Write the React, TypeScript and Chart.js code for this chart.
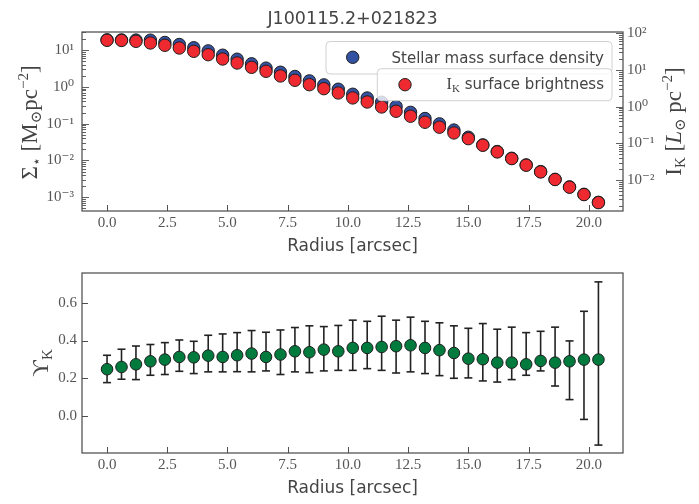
import React, { useEffect, useRef } from 'react';
import { Chart, registerables } from 'chart.js';

Chart.register(...registerables);

// ---------------- data ----------------
const TITLE = 'J100115.2+021823';
const RADIUS = [0, 0.6, 1.2, 1.8, 2.4, 3.0, 3.6, 4.2, 4.8, 5.4, 6.0, 6.6, 7.2, 7.8, 8.4, 9.0, 9.6, 10.2, 10.8, 11.4, 12.0, 12.6, 13.2, 13.8, 14.4, 15.0, 15.6, 16.2, 16.8, 17.4, 18.0, 18.6, 19.2, 19.8, 20.4];
const SIGMA = [18.9, 18.8, 18.6, 18.5, 16.0, 14.1, 11.5, 9.46, 7.22, 5.62, 4.22, 3.22, 2.49, 1.91, 1.45, 1.13, 0.861, 0.629, 0.497, 0.382, 0.292, 0.203, 0.138, 0.0988, 0.067, 0.0427, 0.0265, 0.0175, 0.0115, 0.00759, 0.00499, 0.00308, 0.00192, 0.00121, 0.000731];
const IK = [64.4, 63.7, 60.5, 54.4, 47.1, 39.7, 32.3, 26.1, 19.9, 15.5, 11.8, 9.22, 6.87, 5.24, 3.97, 3.09, 2.36, 1.73, 1.34, 0.98, 0.75, 0.548, 0.376, 0.275, 0.192, 0.134, 0.0887, 0.0583, 0.0383, 0.0253, 0.0166, 0.0103, 0.00637, 0.004, 0.00242];
const UPSILON = [0.248, 0.26, 0.274, 0.29, 0.299, 0.313, 0.311, 0.32, 0.313, 0.322, 0.331, 0.313, 0.326, 0.343, 0.338, 0.352, 0.343, 0.361, 0.361, 0.366, 0.37, 0.375, 0.361, 0.349, 0.334, 0.304, 0.301, 0.283, 0.283, 0.274, 0.292, 0.283, 0.29, 0.299, 0.299];
const UPS_HI = [0.322, 0.354, 0.371, 0.379, 0.389, 0.403, 0.396, 0.428, 0.435, 0.442, 0.453, 0.444, 0.456, 0.469, 0.478, 0.474, 0.48, 0.508, 0.502, 0.529, 0.508, 0.524, 0.502, 0.494, 0.478, 0.465, 0.49, 0.46, 0.471, 0.442, 0.449, 0.471, 0.398, 0.555, 0.711];
const UPS_LO = [0.177, 0.195, 0.193, 0.216, 0.22, 0.237, 0.225, 0.234, 0.234, 0.235, 0.234, 0.239, 0.22, 0.234, 0.23, 0.239, 0.242, 0.242, 0.251, 0.242, 0.228, 0.234, 0.225, 0.214, 0.2, 0.202, 0.186, 0.18, 0.193, 0.216, 0.239, 0.159, 0.087, -0.018, -0.154];

const X_TICKS = [0, 2.5, 5, 7.5, 10, 12.5, 15, 17.5, 20];
const X_TICK_LABELS = ['0.0', '2.5', '5.0', '7.5', '10.0', '12.5', '15.0', '17.5', '20.0'];
const SIGMA_TICKS = [1e-3, 1e-2, 1e-1, 1, 10];
const SIGMA_TICK_LABELS = ['10⁻³', '10⁻²', '10⁻¹', '10⁰', '10¹'];
const IK_TICKS = [1e-2, 1e-1, 1, 10, 100];
const IK_TICK_LABELS = ['10⁻²', '10⁻¹', '10⁰', '10¹', '10²'];
const UPS_TICKS = [0, 0.2, 0.4, 0.6];
const UPS_TICK_LABELS = ['0.0', '0.2', '0.4', '0.6'];

const LEGEND_SIGMA = 'Stellar mass surface density';
const LEGEND_IK = ' surface brightness';
const X_TITLE = 'Radius [arcsec]';

// ---------------- style ----------------
const W = 699;
const H_TOP = 255;
const H_BOT = 249;
const BLUE = '#3452a2';
const RED = '#ee2a30';
const GREEN = '#017a3e';
const EDGE = '#1e1e1e';
const FRAME = '#4f4f4f';
const TXT = '#444444';
const TICK_TXT = '#555555';
const SANS = '"DejaVu Sans", "Noto Sans", sans-serif';
const SERIF = '"Liberation Serif", "DejaVu Serif", serif';
const LBL = 23;

type Seg = { t: string; font: string; dy?: number };

function drawRich(ctx: CanvasRenderingContext2D, segs: Seg[], x: number, y: number, align: 'left' | 'center' | 'right', rotated: boolean, color = TXT) {
  ctx.save();
  ctx.translate(x, y);
  if (rotated) ctx.rotate(-Math.PI / 2);
  ctx.textBaseline = 'alphabetic';
  ctx.textAlign = 'left';
  let total = 0;
  const widths = segs.map((s) => {
    ctx.font = s.font;
    const w = ctx.measureText(s.t).width;
    total += w;
    return w;
  });
  let cx = align === 'center' ? -total / 2 : align === 'right' ? -total : 0;
  ctx.fillStyle = color;
  segs.forEach((s, i) => {
    ctx.font = s.font;
    ctx.fillText(s.t, cx, s.dy || 0);
    cx += widths[i];
  });
  ctx.restore();
}

function line(ctx: CanvasRenderingContext2D, x1: number, y1: number, x2: number, y2: number) {
  ctx.beginPath();
  ctx.moveTo(x1, y1);
  ctx.lineTo(x2, y2);
  ctx.stroke();
}

function drawFrame(chart: any) {
  const { ctx, chartArea: a } = chart;
  ctx.save();
  ctx.strokeStyle = FRAME;
  ctx.lineWidth = 1.25;
  ctx.strokeRect(a.left, a.top, a.right - a.left, a.bottom - a.top);
  ctx.restore();
}

function drawXTicks(chart: any) {
  const { ctx, chartArea: a } = chart;
  const sx = chart.scales.x;
  ctx.save();
  ctx.strokeStyle = FRAME;
  ctx.lineWidth = 1;
  X_TICKS.forEach((v) => {
    const px = Math.round(sx.getPixelForValue(v)) + 0.5;
    line(ctx, px, a.bottom, px, a.bottom - 6);
  });
  ctx.restore();
}

function drawLogTicks(chart: any, scaleId: string, side: 'left' | 'right') {
  const { ctx, chartArea: a } = chart;
  const s = chart.scales[scaleId];
  const lo = Math.floor(Math.log10(s.min));
  const hi = Math.ceil(Math.log10(s.max));
  ctx.save();
  ctx.strokeStyle = FRAME;
  ctx.lineWidth = 0.9;
  for (let d = lo; d <= hi; d++) {
    for (let m = 1; m <= 9; m++) {
      const v = m * Math.pow(10, d);
      if (v < s.min || v > s.max) continue;
      const py = Math.round(s.getPixelForValue(v)) + 0.5;
      const len = m === 1 ? 7 : 4;
      if (side === 'left') line(ctx, a.left, py, a.left + len, py);
      else line(ctx, a.right, py, a.right - len, py);
    }
  }
  ctx.restore();
}

function drawLinYTicks(chart: any) {
  const { ctx, chartArea: a } = chart;
  const s = chart.scales.y;
  ctx.save();
  ctx.strokeStyle = FRAME;
  ctx.lineWidth = 1;
  UPS_TICKS.forEach((v) => {
    const py = Math.round(s.getPixelForValue(v)) + 0.5;
    line(ctx, a.left, py, a.left + 6, py);
  });
  ctx.restore();
}

function roundRectPath(ctx: CanvasRenderingContext2D, x: number, y: number, w: number, h: number, r: number) {
  ctx.beginPath();
  ctx.moveTo(x + r, y);
  ctx.lineTo(x + w - r, y);
  ctx.arcTo(x + w, y, x + w, y + r, r);
  ctx.lineTo(x + w, y + h - r);
  ctx.arcTo(x + w, y + h, x + w - r, y + h, r);
  ctx.lineTo(x + r, y + h);
  ctx.arcTo(x, y + h, x, y + h - r, r);
  ctx.lineTo(x, y + r);
  ctx.arcTo(x, y, x + r, y, r);
  ctx.closePath();
}

function legendBox(ctx: CanvasRenderingContext2D, x: number, y: number, w: number, h: number) {
  ctx.save();
  roundRectPath(ctx, x, y, w, h, 4);
  ctx.fillStyle = 'rgba(255,255,255,0.8)';
  ctx.fill();
  ctx.strokeStyle = 'rgba(204,204,204,0.9)';
  ctx.lineWidth = 1;
  ctx.stroke();
  ctx.restore();
}

function marker(ctx: CanvasRenderingContext2D, x: number, y: number, fill: string) {
  ctx.save();
  ctx.beginPath();
  ctx.arc(x, y, 6.2, 0, Math.PI * 2);
  ctx.fillStyle = fill;
  ctx.fill();
  ctx.strokeStyle = EDGE;
  ctx.lineWidth = 1;
  ctx.stroke();
  ctx.restore();
}

const topPlugin = {
  id: 'topDecor',
  afterDatasetsDraw(chart: any) {
    const ctx = chart.ctx as CanvasRenderingContext2D;
    legendBox(ctx, 326, 41.5, 286, 32.5);
    marker(ctx, 352.7, 57.3, BLUE);
    drawRich(ctx, [{ t: LEGEND_SIGMA, font: '15px ' + SANS }], 604, 63, 'right', false);
    legendBox(ctx, 377.3, 68.7, 234.7, 32);
    marker(ctx, 405, 84.7, RED);
    drawRich(ctx, [
      { t: 'I', font: '16px ' + SERIF },
      { t: 'K', font: '11px ' + SERIF, dy: 3 },
      { t: LEGEND_IK, font: '15px ' + SANS },
    ], 604, 89, 'right', false);
  },
  afterDraw(chart: any) {
    const ctx = chart.ctx as CanvasRenderingContext2D;
    drawFrame(chart);
    drawXTicks(chart);
    drawLogTicks(chart, 'y', 'left');
    drawLogTicks(chart, 'y1', 'right');
    const a = chart.chartArea;
    const cx = (a.left + a.right) / 2;
    drawRich(ctx, [{ t: TITLE, font: '17.5px ' + SANS }], cx, 24, 'center', false);
    drawRich(ctx, [{ t: X_TITLE, font: '17px ' + SANS }], cx, 251, 'center', false);
    const cy = (a.top + a.bottom) / 2;
    drawRich(ctx, [
      { t: 'Σ', font: LBL + 'px ' + SERIF },
      { t: '⋆', font: '14px ' + SERIF, dy: 4 },
      { t: ' [M', font: LBL + 'px ' + SERIF },
      { t: '⊙', font: '15px ' + SERIF, dy: 4 },
      { t: 'pc', font: LBL + 'px ' + SERIF },
      { t: '−2', font: '15px ' + SERIF, dy: -9 },
      { t: ']', font: LBL + 'px ' + SERIF },
    ], 37, cy + 1, 'center', true);
    drawRich(ctx, [
      { t: 'I', font: LBL + 'px ' + SERIF },
      { t: 'K', font: '15px ' + SERIF, dy: 4 },
      { t: ' [', font: LBL + 'px ' + SERIF },
      { t: 'L', font: 'italic ' + LBL + 'px ' + SERIF },
      { t: '⊙', font: '15px ' + SERIF, dy: 4 },
      { t: ' pc', font: LBL + 'px ' + SERIF },
      { t: '−2', font: '15px ' + SERIF, dy: -9 },
      { t: ']', font: LBL + 'px ' + SERIF },
    ], 681, cy, 'center', true);
  },
};

const botPlugin = {
  id: 'botDecor',
  beforeDatasetsDraw(chart: any) {
    const ctx = chart.ctx as CanvasRenderingContext2D;
    const sx = chart.scales.x;
    const sy = chart.scales.y;
    ctx.save();
    ctx.strokeStyle = '#222222';
    ctx.lineWidth = 1.6;
    RADIUS.forEach((r, i) => {
      const px = sx.getPixelForValue(r);
      const yh = sy.getPixelForValue(UPS_HI[i]);
      const yl = sy.getPixelForValue(UPS_LO[i]);
      line(ctx, px, yh, px, yl);
      line(ctx, px - 4, yh, px + 4, yh);
      line(ctx, px - 4, yl, px + 4, yl);
    });
    ctx.restore();
  },
  afterDraw(chart: any) {
    const ctx = chart.ctx as CanvasRenderingContext2D;
    drawFrame(chart);
    drawXTicks(chart);
    drawLinYTicks(chart);
    const a = chart.chartArea;
    const cx = (a.left + a.right) / 2;
    drawRich(ctx, [{ t: X_TITLE, font: '17px ' + SANS }], cx, 238, 'center', false);
    const cy = (a.top + a.bottom) / 2;
    drawRich(ctx, [
      { t: 'ϒ', font: '23px ' + SERIF },
      { t: 'K', font: '15px ' + SERIF, dy: 4 },
    ], 48, cy, 'center', true);
  },
};

const tickFont = { family: SERIF, size: 15 };
const noGrid = { display: false, drawTicks: false };

function xScale(height: number) {
  return {
    type: 'linear' as const,
    min: -1.04,
    max: 21.42,
    grid: noGrid,
    border: { display: false },
    afterBuildTicks: (s: any) => { s.ticks = X_TICKS.map((v) => ({ value: v })); },
    afterFit: (s: any) => { s.height = height; },
    ticks: {
      autoSkip: false,
      maxRotation: 0,
      padding: 3,
      color: TICK_TXT,
      font: tickFont,
      callback: (_v: any, i: number) => X_TICK_LABELS[i],
    },
  };
}

export default function App() {
  const topRef = useRef<HTMLCanvasElement>(null);
  const botRef = useRef<HTMLCanvasElement>(null);

  useEffect(() => {
    const top = new Chart(topRef.current as HTMLCanvasElement, {
      type: 'scatter',
      data: {
        datasets: [
          {
            label: LEGEND_SIGMA,
            data: RADIUS.map((x, i) => ({ x, y: SIGMA[i] })),
            yAxisID: 'y',
            order: 2,
            backgroundColor: BLUE,
            borderColor: EDGE,
            borderWidth: 1,
            pointRadius: 6.2,
            pointHoverRadius: 6.2,
          },
          {
            label: 'IK surface brightness',
            data: RADIUS.map((x, i) => ({ x, y: IK[i] })),
            yAxisID: 'y1',
            order: 1,
            backgroundColor: RED,
            borderColor: EDGE,
            borderWidth: 1,
            pointRadius: 6.2,
            pointHoverRadius: 6.2,
          },
        ],
      },
      options: {
        animation: false,
        responsive: false,
        events: [],
        layout: { padding: { top: 32, left: 0, right: 0, bottom: 0 } },
        plugins: { legend: { display: false }, tooltip: { enabled: false }, title: { display: false } },
        scales: {
          x: xScale(H_TOP - 211),
          y: {
            type: 'logarithmic',
            position: 'left',
            min: 4.25e-4,
            max: 30.8,
            grid: noGrid,
            border: { display: false },
            afterBuildTicks: (s: any) => { s.ticks = SIGMA_TICKS.map((v) => ({ value: v })); },
            afterFit: (s: any) => { s.width = 82; },
            ticks: {
              autoSkip: false,
              padding: 8,
              color: TICK_TXT,
              font: tickFont,
              callback: (_v: any, i: number) => SIGMA_TICK_LABELS[i],
            },
          },
          y1: {
            type: 'logarithmic',
            position: 'right',
            min: 1.43e-3,
            max: 108.5,
            grid: noGrid,
            border: { display: false },
            afterBuildTicks: (s: any) => { s.ticks = IK_TICKS.map((v) => ({ value: v })); },
            afterFit: (s: any) => { s.width = W - 623; },
            ticks: {
              autoSkip: false,
              padding: 4,
              color: TICK_TXT,
              font: tickFont,
              callback: (_v: any, i: number) => IK_TICK_LABELS[i],
            },
          },
        },
      } as any,
      plugins: [topPlugin],
    });

    const bot = new Chart(botRef.current as HTMLCanvasElement, {
      type: 'scatter',
      data: {
        datasets: [
          {
            label: 'ϒK',
            data: RADIUS.map((x, i) => ({ x, y: UPSILON[i] })),
            backgroundColor: GREEN,
            borderColor: EDGE,
            borderWidth: 1,
            pointRadius: 5.8,
            pointHoverRadius: 5.8,
          },
        ],
      },
      options: {
        animation: false,
        responsive: false,
        events: [],
        layout: { padding: { top: 273 - H_TOP, left: 0, right: W - 623, bottom: 0 } },
        plugins: { legend: { display: false }, tooltip: { enabled: false } },
        scales: {
          x: xScale(H_BOT - (453 - H_TOP)),
          y: {
            type: 'linear',
            position: 'left',
            min: -0.196,
            max: 0.758,
            grid: noGrid,
            border: { display: false },
            afterBuildTicks: (s: any) => { s.ticks = UPS_TICKS.map((v) => ({ value: v })); },
            afterFit: (s: any) => { s.width = 82; },
            ticks: {
              autoSkip: false,
              padding: 5,
              color: TICK_TXT,
              font: tickFont,
              callback: (_v: any, i: number) => UPS_TICK_LABELS[i],
            },
          },
        },
      } as any,
      plugins: [botPlugin],
    });

    return () => {
      top.destroy();
      bot.destroy();
    };
  }, []);

  return (
    <div style={{ position: 'absolute', left: 0, top: 0, width: W, height: H_TOP + H_BOT, background: '#ffffff' }}>
      <canvas ref={topRef} width={W} height={H_TOP} style={{ display: 'block', width: W, height: H_TOP }} />
      <canvas ref={botRef} width={W} height={H_BOT} style={{ display: 'block', width: W, height: H_BOT }} />
    </div>
  );
}
